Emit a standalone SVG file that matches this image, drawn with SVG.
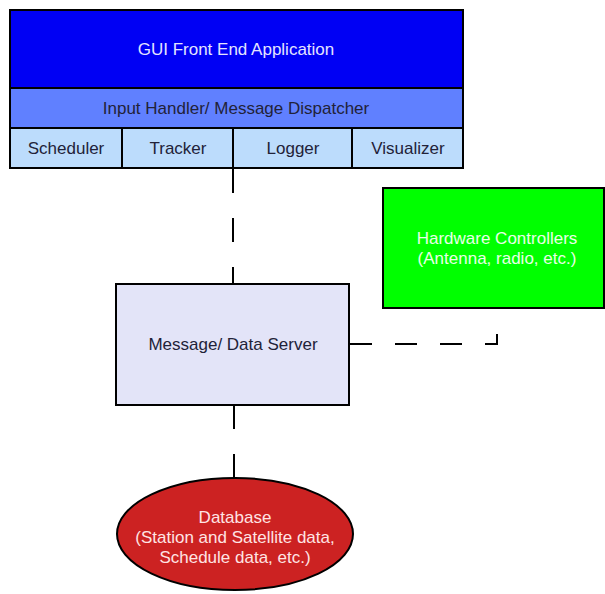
<svg xmlns="http://www.w3.org/2000/svg" width="605" height="594" viewBox="0 0 605 594">
<style>
.box{stroke:#000;stroke-width:2}
.t{font-family:"Liberation Sans",Arial,sans-serif;font-size:17px;text-anchor:middle;dominant-baseline:central}
.dark{fill:#222238}
.conn{fill:none;stroke:#000;stroke-width:2;stroke-dasharray:24 25}
</style>
<rect width="605" height="594" fill="#fff"/>
<g id="gui">
<rect class="box" x="10" y="10" width="453" height="78" fill="#0000f4"/>
<text class="t" x="236" y="49" fill="#e4e4ff">GUI Front End Application</text>
</g>
<g id="input-handler">
<rect class="box" x="10" y="88" width="453" height="40" fill="#6080ff"/>
<text class="t dark" x="236" y="108">Input Handler/ Message Dispatcher</text>
</g>
<g id="scheduler">
<rect class="box" x="10" y="128" width="112" height="40" fill="#bcdcfc"/>
<text class="t dark" x="66" y="148">Scheduler</text>
</g>
<g id="tracker">
<rect class="box" x="122" y="128" width="111" height="40" fill="#bcdcfc"/>
<text class="t dark" x="178" y="148">Tracker</text>
</g>
<g id="logger">
<rect class="box" x="233" y="128" width="119" height="40" fill="#bcdcfc"/>
<text class="t dark" x="293" y="148">Logger</text>
</g>
<g id="visualizer">
<rect class="box" x="352" y="128" width="111" height="40" fill="#bcdcfc"/>
<text class="t dark" x="408" y="148">Visualizer</text>
</g>
<g id="hardware">
<rect class="box" x="383" y="188" width="221" height="120" fill="#00ff00"/>
<text class="t" x="497" y="238" fill="#e8ffe8">Hardware Controllers</text>
<text class="t" x="497" y="258" fill="#e8ffe8">(Antenna, radio, etc.)</text>
</g>
<g id="server">
<rect class="box" x="116" y="284" width="233" height="121" fill="#e3e4f8"/>
<text class="t dark" x="233" y="344">Message/ Data Server</text>
</g>
<g id="database">
<ellipse class="box" cx="235" cy="534" rx="118" ry="56" fill="#cc2222"/>
<text class="t" x="235" y="517" fill="#ffe4e4">Database</text>
<text class="t" x="235" y="537" fill="#ffe4e4">(Station and Satellite data,</text>
<text class="t" x="235" y="557" fill="#ffe4e4">Schedule data, etc.)</text>
</g>
<g id="connectors">
<path class="conn" d="M233 169 V284"/>
<path class="conn" d="M350 344 H497 V333" style="stroke-dasharray:22 23"/>
<path class="conn" d="M234 405 V478"/>
</g>
</svg>
